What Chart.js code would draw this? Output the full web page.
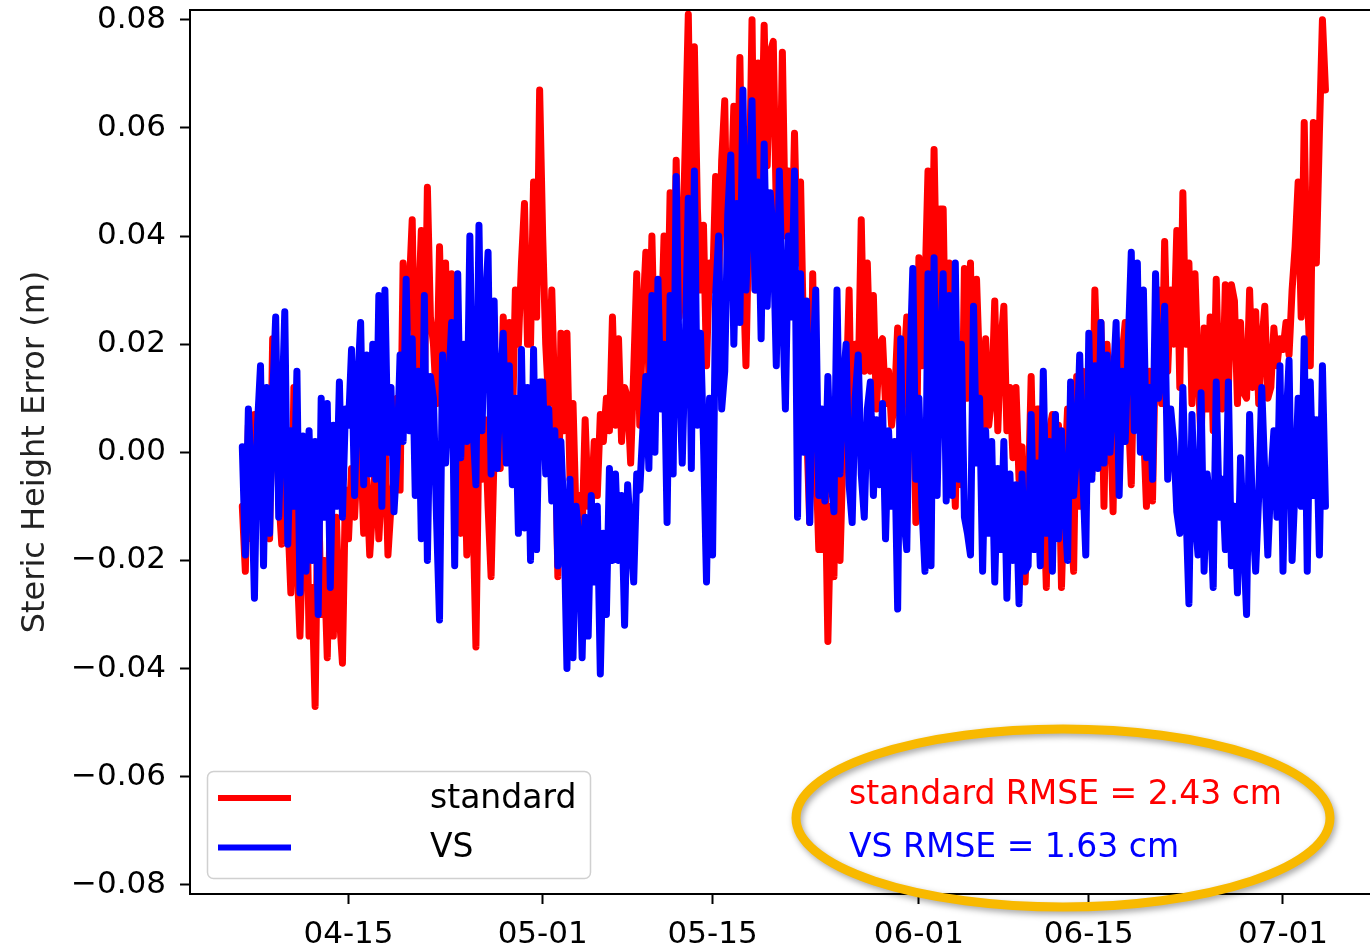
<!DOCTYPE html>
<html>
<head>
<meta charset="utf-8">
<title>Steric height error</title>
<script src="https://cdn.jsdelivr.net/npm/chart.js@4.4.0/dist/chart.umd.min.js"></script>
<style>
    html, body { margin: 0; padding: 0; background: #fff; overflow: hidden; }
    #wrap { width: 1370px; height: 950px; }
</style>
</head>
<body>
<div id="wrap"><canvas id="errChart" width="1370" height="950"></canvas></div>
<script>
// Sampling: days after 04-01, one value every 6 hours
const firstDay = 5.25;
const stepDay = 0.25;

// x axis ticks (day after 04-01 -> label)
const tickDays = [14, 30, 44, 61, 75, 91];
const tickLabels = ['04-15', '05-01', '05-15', '06-01', '06-15', '07-01'];
const yTicks = [-0.08, -0.06, -0.04, -0.02, 0, 0.02, 0.04, 0.06, 0.08];

const seriesNames = ['standard', 'VS'];
const seriesColors = ['#ff0000', '#0000ff'];
const rmseCm = [2.43, 1.63];

// Steric height error (m), standard run
const standardErr = [
    -0.010, -0.022, 0.005,
    -0.016, 0.007, -0.010, -0.004,
    -0.008, 0.004, -0.016, 0.021,
    0.012, -0.008, -0.017, 0.002,
    -0.012, -0.026, 0.012, -0.020,
    -0.034, -0.015, 0.000, -0.034,
    -0.025, -0.047, -0.005, -0.030,
    -0.020, -0.038, -0.011, -0.034,
    -0.012, -0.030, -0.039, -0.007,
    -0.016, -0.003, -0.012, 0.000,
    0.002, -0.015, -0.005, -0.019,
    -0.010, 0.000, -0.016, -0.005,
    0.003, -0.019, -0.010, -0.005,
    0.010, -0.007, 0.035, 0.020,
    0.030, 0.043, 0.008, 0.025,
    0.041, 0.010, 0.049, 0.025,
    0.020, 0.009, 0.038, 0.015,
    0.035, 0.005, 0.033, -0.001,
    -0.006, -0.015, 0.008, -0.019,
    0.005, -0.010, -0.036, 0.004,
    -0.005, 0.006, -0.010, -0.023,
    0.000, 0.012, -0.003, 0.025,
    0.010, 0.024, 0.004, 0.030,
    0.020, 0.035, 0.046, 0.020,
    0.020, 0.050, 0.025, 0.067,
    0.040, 0.020, 0.009, 0.030,
    0.009, -0.023, 0.022, 0.004,
    0.022, -0.005, 0.009, -0.012,
    -0.008, -0.015, 0.006, -0.010,
    -0.010, 0.002, -0.008, 0.007,
    0.002, 0.010, 0.004, 0.025,
    0.005, 0.021, 0.002, 0.012,
    0.010, -0.002, 0.015, 0.033,
    0.005, 0.025, 0.037, 0.014,
    0.040, 0.015, 0.030, 0.020,
    0.040, 0.018, 0.048, 0.021,
    0.054, 0.025, 0.035, 0.057,
    0.081, 0.041, 0.075, 0.045,
    0.030, 0.042, 0.016, 0.035,
    0.030, 0.051, 0.031, 0.054,
    0.065, 0.030, 0.045, 0.064,
    0.040, 0.073, 0.035, 0.016,
    0.045, 0.080, 0.030, 0.072,
    0.050, 0.079, 0.053, 0.074,
    0.076, 0.045, 0.038, 0.074,
    0.040, 0.052, 0.033, 0.059,
    0.035, 0.050, 0.020, 0.005,
    -0.013, 0.033, 0.000, -0.018,
    -0.018, -0.001, -0.035, -0.010,
    -0.023, 0.012, -0.020, 0.000,
    0.010, 0.030, -0.005, 0.020,
    0.012, 0.043, 0.015, 0.035,
    0.015, 0.029, 0.008, 0.020,
    0.021, 0.009, 0.015, 0.005,
    0.010, 0.023, -0.001, 0.015,
    0.025, 0.008, 0.020, -0.013,
    0.036, 0.016, 0.030, 0.052,
    0.020, 0.056, 0.025, 0.045,
    0.045, 0.010, 0.035, 0.005,
    -0.010, 0.020, -0.006, 0.034,
    0.010, 0.035, -0.001, 0.032,
    0.015, 0.002, 0.021, 0.005,
    0.010, 0.028, 0.004, 0.020,
    0.027, 0.004, 0.012, -0.001,
    0.012, -0.005, 0.001, -0.024,
    -0.010, 0.014, -0.012, 0.008,
    0.008, -0.005, -0.025, 0.004,
    0.007, -0.010, 0.005, -0.025,
    -0.005, 0.008, -0.010, -0.022,
    0.014, -0.010, 0.015, -0.005,
    0.010, -0.004, 0.030, 0.012,
    0.024, -0.010, 0.020, 0.010,
    -0.011, 0.021, 0.005, 0.018,
    0.024, 0.008, -0.006, 0.020,
    0.010, 0.024, 0.005, -0.010,
    0.015, -0.009, 0.020, 0.030,
    0.009, 0.039, 0.015, 0.030,
    0.020, 0.041, 0.012, 0.048,
    0.020, 0.035, 0.009, 0.033,
    0.015, 0.002, 0.023, 0.008,
    0.025, 0.004, 0.032, 0.010,
    0.008, 0.031, 0.012, 0.031,
    0.028, 0.009, 0.024, 0.011,
    0.010, 0.030, 0.012, 0.026,
    0.009, 0.020, 0.027, 0.010,
    0.012, 0.023, 0.016, 0.021,
    0.019, 0.024, 0.018, 0.030,
    0.038, 0.050, 0.025, 0.061,
    0.030, 0.016, 0.061, 0.035,
    0.059, 0.080, 0.067
];

// Steric height error (m), VS run
const vsErr = [
    0.001, -0.019, 0.008,
    -0.004, -0.027, 0.005, 0.016,
    -0.021, 0.012, -0.015, 0.010,
    0.025, -0.012, 0.006, 0.026,
    -0.017, 0.004, -0.010, 0.015,
    -0.026, 0.003, -0.022, 0.004,
    -0.020, 0.002, -0.030, 0.010,
    -0.012, 0.009, -0.025, 0.005,
    -0.010, 0.013, -0.012, 0.008,
    0.005, 0.019, -0.008, 0.012,
    0.024, -0.006, 0.018, -0.004,
    0.020, -0.005, 0.029, -0.010,
    0.030, 0.000, 0.012, -0.011,
    -0.001, 0.018, 0.002, 0.032,
    0.004, 0.021, -0.008, 0.015,
    -0.016, 0.029, -0.020, 0.014,
    0.010, -0.012, -0.031, 0.018,
    -0.002, 0.012, 0.024, -0.021,
    0.033, -0.001, 0.020, 0.002,
    0.040, 0.005, -0.006, 0.042,
    0.004, 0.026, 0.037, -0.004,
    0.028, -0.003, 0.012, 0.022,
    -0.002, 0.016, -0.006, 0.010,
    -0.015, 0.019, -0.014, 0.012,
    -0.020, 0.019, -0.018, 0.013,
    0.013, -0.004, 0.008, -0.009,
    0.004, -0.021, 0.002, -0.012,
    -0.040, -0.005, -0.038, -0.010,
    -0.016, -0.038, -0.012, -0.034,
    -0.008, -0.024, -0.010, -0.041,
    -0.015, -0.030, -0.003, -0.020,
    -0.004, -0.020, -0.008, -0.032,
    -0.006, -0.015, -0.024, -0.004,
    -0.007, 0.004, 0.014, -0.003,
    0.029, 0.000, 0.032, 0.008,
    0.020, -0.013, 0.029, -0.004,
    0.051, 0.015, -0.002, 0.020,
    0.047, -0.003, 0.052, 0.005,
    0.022, 0.002, -0.024, 0.010,
    -0.019, 0.029, 0.040, 0.008,
    0.015, 0.044, 0.055, 0.020,
    0.046, 0.024, 0.067, 0.030,
    0.045, 0.065, 0.030, 0.050,
    0.021, 0.057, 0.027, 0.048,
    0.040, 0.016, 0.052, 0.028,
    0.008, 0.040, 0.025, 0.052,
    -0.012, 0.033, 0.000, 0.028,
    -0.013, 0.015, 0.030, -0.008,
    0.008, -0.009, 0.014, -0.005,
    -0.011, 0.030, -0.004, 0.012,
    0.020, -0.006, -0.013, 0.010,
    0.018, -0.004, -0.012, 0.008,
    0.013, -0.008, 0.006, -0.006,
    0.009, -0.016, 0.004, -0.010,
    0.002, -0.029, 0.021, -0.012,
    -0.018, 0.015, 0.034, -0.005,
    0.010, -0.010, -0.022, 0.033,
    -0.021, 0.036, -0.008, 0.018,
    0.033, -0.009, 0.029, -0.008,
    0.035, -0.005, 0.020, -0.012,
    -0.015, -0.019, 0.027, -0.002,
    0.010, -0.022, 0.004, -0.015,
    0.002, -0.024, -0.003, -0.018,
    0.002, -0.027, -0.004, -0.020,
    -0.006, -0.028, -0.004, -0.022,
    -0.021, 0.007, -0.018, -0.002,
    -0.021, 0.015, -0.015, 0.002,
    -0.022, 0.007, -0.016, 0.004,
    -0.010, -0.020, 0.013, -0.008,
    0.000, 0.018, -0.004, -0.019,
    0.022, -0.005, 0.016, -0.003,
    0.024, -0.002, 0.018, 0.000,
    0.012, 0.024, -0.008, 0.015,
    0.002, 0.020, 0.037, 0.004,
    0.035, 0.000, 0.030, -0.001,
    0.012, -0.005, 0.033, 0.010,
    0.015, 0.027, -0.005, 0.008,
    0.002, -0.011, -0.015, 0.012,
    -0.010, -0.028, 0.007, -0.012,
    -0.019, 0.011, -0.022, -0.004,
    -0.010, -0.025, 0.013, -0.012,
    -0.005, -0.018, 0.013, -0.021,
    -0.010, -0.026, -0.001, -0.016,
    -0.030, 0.007, -0.012, -0.022,
    -0.008, 0.012, -0.004, -0.019,
    -0.005, 0.004, -0.012, 0.016,
    -0.022, 0.005, 0.017, -0.020,
    -0.006, 0.010, -0.010, 0.021,
    -0.022, 0.013, -0.008, 0.006,
    -0.019, 0.016, -0.010
];

Chart.defaults.font.family = "'DejaVu Sans', sans-serif";
Chart.defaults.color = '#000';

const textFont = "33px 'DejaVu Sans'";

function toPoints(values) {
    return values.map((v, i) => ({ x: firstDay + i * stepDay, y: v }));
}

function formatTick(v) {
    if (Math.abs(v) < 1e-9) return '0.00';
    const s = Math.abs(v).toFixed(2);
    return v < 0 ? '\u2212' + s : s;
}

// top spine (matplotlib style box)
const framePlugin = {
    id: 'frame',
    afterDraw(chart) {
        const { ctx, chartArea } = chart;
        ctx.save();
        ctx.strokeStyle = '#000';
        ctx.lineWidth = 2;
        ctx.beginPath();
        ctx.moveTo(chartArea.left, chartArea.top);
        ctx.lineTo(chartArea.right, chartArea.top);
        ctx.stroke();
        ctx.restore();
    }
};

// legend box in the lower left corner
const legendPlugin = {
    id: 'cornerLegend',
    afterDraw(chart) {
        const ctx = chart.ctx;
        ctx.save();
        ctx.beginPath();
        ctx.roundRect(207.5, 771.5, 383, 107, 6);
        ctx.fillStyle = 'rgba(255,255,255,0.85)';
        ctx.fill();
        ctx.strokeStyle = '#d0d0d0';
        ctx.lineWidth = 1.5;
        ctx.stroke();

        chart.data.datasets.forEach((ds, i) => {
            const y = 798 + i * 49.5;
            ctx.strokeStyle = ds.borderColor;
            ctx.lineWidth = 6;
            ctx.lineCap = 'butt';
            ctx.beginPath();
            ctx.moveTo(218, y);
            ctx.lineTo(291, y);
            ctx.stroke();

            ctx.fillStyle = '#000';
            ctx.font = textFont;
            ctx.textAlign = 'left';
            ctx.textBaseline = 'middle';
            ctx.fillText(ds.label, 430, y + 1);
        });
        ctx.restore();
    }
};

// RMSE note with highlighted ellipse
const rmsePlugin = {
    id: 'rmseNote',
    afterDraw(chart) {
        const ctx = chart.ctx;
        ctx.save();
        ctx.font = textFont;
        ctx.textAlign = 'left';
        ctx.textBaseline = 'middle';
        seriesNames.forEach((name, i) => {
            ctx.fillStyle = seriesColors[i];
            ctx.fillText(name + ' RMSE = ' + rmseCm[i].toFixed(2) + ' cm', 849, 795 + i * 53);
        });

        ctx.shadowColor = 'rgba(0,0,0,0.35)';
        ctx.shadowBlur = 6;
        ctx.shadowOffsetX = 2;
        ctx.shadowOffsetY = 3;
        ctx.strokeStyle = '#f8b900';
        ctx.lineWidth = 9;
        ctx.beginPath();
        ctx.ellipse(1063, 818, 267, 89, 0, 0, Math.PI * 2);
        ctx.stroke();
        ctx.restore();
    }
};

const lineStyle = {
    borderWidth: 7,
    tension: 0,
    fill: false,
    pointRadius: 0,
    borderCapStyle: 'round',
    borderJoinStyle: 'round'
};

const errChart = new Chart(document.getElementById('errChart'), {
    type: 'line',
    data: {
        datasets: [
            Object.assign({
                label: seriesNames[0],
                data: toPoints(standardErr),
                borderColor: seriesColors[0],
                order: 2
            }, lineStyle),
            Object.assign({
                label: seriesNames[1],
                data: toPoints(vsErr),
                borderColor: seriesColors[1],
                order: 1
            }, lineStyle)
        ]
    },
    options: {
        responsive: false,
        animation: false,
        devicePixelRatio: 1,
        layout: { padding: { top: 10, right: 0, bottom: 0, left: 0 } },
        plugins: {
            legend: { display: false },
            tooltip: { enabled: false }
        },
        scales: {
            x: {
                type: 'linear',
                min: 0.94,
                max: 98.17,
                afterFit: scale => {
                    scale.height = 56;
                    scale.paddingLeft = 0;
                    scale.paddingRight = 0;
                },
                afterBuildTicks: scale => {
                    scale.ticks = tickDays.map(v => ({ value: v }));
                },
                ticks: {
                    autoSkip: false,
                    maxRotation: 0,
                    padding: 12,
                    color: '#000',
                    font: { size: 31 },
                    callback: (value, index) => tickLabels[index]
                },
                grid: {
                    drawOnChartArea: false,
                    tickLength: 10,
                    tickWidth: 2,
                    tickColor: '#000'
                },
                border: { display: true, color: '#000', width: 2 }
            },
            y: {
                min: -0.0817,
                max: 0.0818,
                afterFit: scale => {
                    scale.width = 190;
                    scale.paddingTop = 0;
                    scale.paddingBottom = 0;
                },
                afterBuildTicks: scale => {
                    scale.ticks = yTicks.map(v => ({ value: v }));
                },
                ticks: {
                    autoSkip: false,
                    padding: 14,
                    color: '#000',
                    font: { size: 31 },
                    callback: value => formatTick(value)
                },
                grid: {
                    drawOnChartArea: false,
                    tickLength: 10,
                    tickWidth: 2,
                    tickColor: '#000'
                },
                border: { display: true, color: '#000', width: 2 },
                title: {
                    display: true,
                    text: 'Steric Height Error (m)',
                    color: '#222',
                    font: { size: 32 },
                    padding: { top: 16, bottom: 0 }
                }
            }
        }
    },
    plugins: [framePlugin, legendPlugin, rmsePlugin]
});
</script>
</body>
</html>
